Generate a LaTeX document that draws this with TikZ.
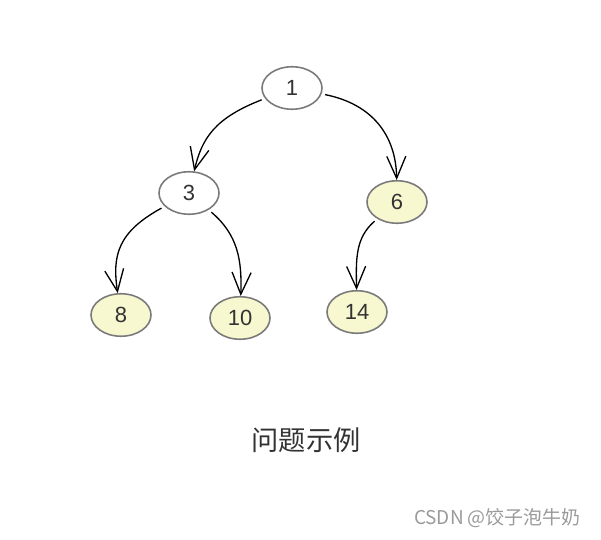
\documentclass[tikz,border=0pt]{standalone}
\usepackage{fontspec}
\setmainfont{Liberation Sans}
\newfontfamily\cjk{Noto Sans CJK SC}
\usetikzlibrary{arrows.meta,shapes.geometric}
\definecolor{edgegray}{HTML}{7A7A7A}
\definecolor{leafyellow}{HTML}{F7F7D0}
\definecolor{textgray}{HTML}{333333}
\definecolor{markgray}{HTML}{9A9A9A}

\begin{document}
\begin{tikzpicture}[
  x=0.02cm, y=-0.02cm,
  every node/.style={font=\fontsize{12.5pt}{14pt}\selectfont, text=textgray},
  nd/.style={draw=edgegray, line width=0.9pt, ellipse, inner sep=0pt,
    minimum width=1.2cm, minimum height=0.85cm, fill=white},
  leaf/.style={nd, fill=leafyellow},
  arr/.style={-{Straight Barb[length=0.44cm, width=0.38cm]}, line width=0.75pt, shorten <=2pt}
]
  \useasboundingbox (0,0) rectangle (601,540);

  \node[nd] (n1) at (292,88) {1};
  \node[nd] (n3) at (189,193) {3};
  \node[leaf] (n6) at (397,202) {6};
  \node[leaf] (n8) at (121,315) {8};
  \node[leaf] (n10) at (240,318) {10};
  \node[leaf] (n14) at (357,312) {14};

  \draw[arr] (n1) .. controls (215,118) and (202,138) .. (n3);
  \draw[arr] (n1) .. controls (372,104) and (396,135) .. (n6);
  \draw[arr] (n3) .. controls (118,232) and (112,255) .. (n8);
  \draw[arr] (n3) .. controls (238,235) and (242,260) .. (n10);
  \draw[arr] (n6) .. controls (355,238) and (356,260) .. (n14);

  \node[font=\cjk\fontsize{15.5pt}{18pt}\selectfont] (title) at (306,440) {问题示例};
  \node[font=\cjk\fontsize{10.8pt}{12pt}\selectfont, text=markgray, anchor=east] (mark) at (587,518) {CSDN @饺子泡牛奶};
\end{tikzpicture}
\end{document}
